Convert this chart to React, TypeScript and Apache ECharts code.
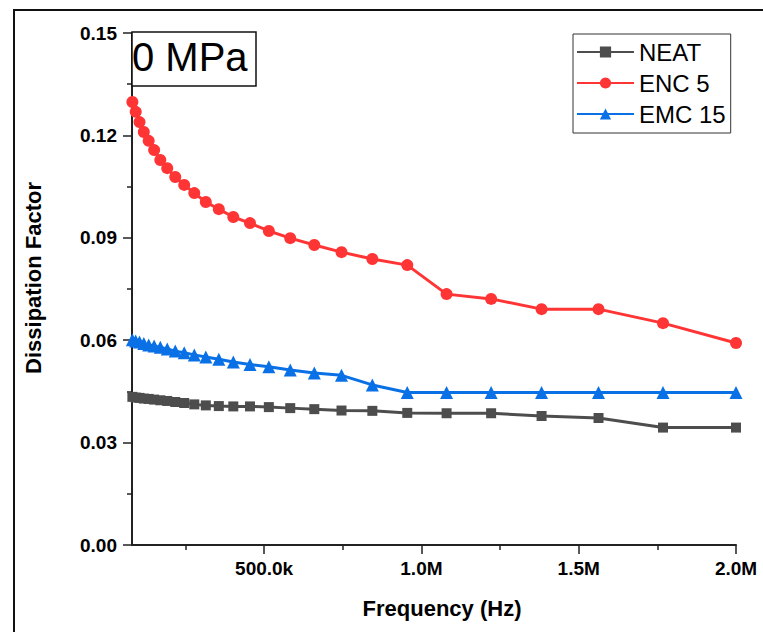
import React, { useEffect, useRef } from "react";
import * as echarts from "echarts";

// Frequency sweep points (Hz), log-spaced
const freqHz = [
  81200, 91800, 103900, 117500, 133000, 150400, 170000, 192000, 217500, 246000,
  278000, 314600, 356000, 402000, 455000, 515000, 583000, 659500, 746000, 844000,
  955000, 1080000, 1221600, 1382000, 1563000, 1768000, 2000000,
];

// Dissipation factor per sample
const neat = [
  0.0434, 0.0432, 0.0431, 0.0429, 0.0428, 0.0426, 0.0424, 0.0422, 0.0419, 0.0416,
  0.0412, 0.0409, 0.0407, 0.0406, 0.0406, 0.0404, 0.0401, 0.0398, 0.0394, 0.0393,
  0.0387, 0.0386, 0.0386, 0.0378, 0.0372, 0.0344, 0.0344,
];
const enc5 = [
  0.1298, 0.1269, 0.1239, 0.121, 0.1184, 0.1157, 0.1128, 0.1104, 0.1078, 0.1055,
  0.1031, 0.1005, 0.0984, 0.0961, 0.0943, 0.092, 0.0899, 0.0879, 0.0858, 0.0838,
  0.082, 0.0735, 0.0721, 0.0691, 0.0691, 0.065, 0.0592,
];
const emc15 = [
  0.0601, 0.0598, 0.0595, 0.059, 0.0586, 0.0583, 0.0579, 0.0574, 0.0568, 0.0563,
  0.0557, 0.0551, 0.0544, 0.0536, 0.0529, 0.0522, 0.0513, 0.0504, 0.0497, 0.0469,
  0.0447, 0.0447, 0.0447, 0.0447, 0.0447, 0.0447, 0.0447,
];

const seriesNames = ["NEAT", "ENC 5", "EMC 15"];
const majorTicksX = [500000, 1000000, 1500000, 2000000];
const minorTicksX = [250000, 750000, 1250000, 1750000];

const FONT = "'Liberation Sans', Arial, Helvetica, sans-serif";

const fmtFreq = (v: number) =>
  v >= 1e6 ? (v / 1e6).toFixed(1) + "M" : (v / 1e3).toFixed(1) + "k";

const pairs = (ys: number[]) => freqHz.map((f, i) => [f, ys[i]]);

export default function App() {
  const ref = useRef<HTMLDivElement>(null);

  useEffect(() => {
    if (!ref.current) return;
    const chart = echarts.init(ref.current, undefined, { renderer: "svg" });

    const axisColor = "#222";
    const baseX = {
      type: "value" as const,
      min: 80000,
      max: 2000000,
      splitLine: { show: false },
    };

    chart.setOption({
      animation: false,
      backgroundColor: "#ffffff",
      grid: { left: 132, top: 33, width: 604, height: 512, containLabel: false },
      legend: {
        orient: "vertical",
        left: 573,
        top: 34,
        padding: [6, 5, 7, 3],
        itemWidth: 57,
        itemHeight: 14,
        itemGap: 7,
        borderColor: "#333",
        borderWidth: 1,
        data: seriesNames,
        textStyle: { fontFamily: FONT, fontSize: 24, color: "#000" },
      },
      xAxis: [
        {
          ...baseX,
          position: "bottom",
          axisLine: { show: true, lineStyle: { color: axisColor, width: 2 } },
          axisTick: {
            show: true,
            length: 9,
            customValues: majorTicksX,
            lineStyle: { color: axisColor, width: 1.5 },
          },
          axisLabel: {
            customValues: majorTicksX,
            formatter: (v: number) => fmtFreq(v),
            fontFamily: FONT,
            fontWeight: "bold",
            fontSize: 19,
            color: "#000",
            margin: 14,
          },
        },
        {
          ...baseX,
          position: "bottom",
          axisLine: { show: false },
          axisTick: {
            show: true,
            length: 5,
            customValues: minorTicksX,
            lineStyle: { color: axisColor, width: 1.5 },
          },
          axisLabel: { show: false },
        },
      ],
      yAxis: {
        type: "value",
        min: 0,
        max: 0.15,
        interval: 0.03,
        splitLine: { show: false },
        axisLine: { show: true, lineStyle: { color: axisColor, width: 2 } },
        axisTick: { show: true, length: 9, lineStyle: { color: axisColor, width: 1.5 } },
        minorTick: { show: true, splitNumber: 2, length: 5, lineStyle: { color: axisColor, width: 1.5 } },
        axisLabel: {
          formatter: (v: number) => v.toFixed(2),
          fontFamily: FONT,
          fontWeight: "bold",
          fontSize: 19,
          color: "#000",
          margin: 15,
        },
      },
      graphic: [
        {
          type: "rect",
          z: 0,
          shape: { x: 14, y: 10, width: 800, height: 700 },
          style: { fill: "none", stroke: "#111", lineWidth: 2 },
        },
        {
          type: "rect",
          z: 10,
          shape: { x: 132, y: 32, width: 124, height: 54 },
          style: { fill: "#fff", stroke: "#111", lineWidth: 1.5 },
        },
        {
          type: "text",
          z: 11,
          x: 132,
          y: 57,
          style: {
            text: "0 MPa",
            fontFamily: FONT,
            fontSize: 40,
            fill: "#000",
            align: "left",
            verticalAlign: "middle",
          },
        },
        {
          type: "text",
          x: 442,
          y: 608,
          style: {
            text: "Frequency (Hz)",
            fontFamily: FONT,
            fontWeight: "bold",
            fontSize: 22,
            fill: "#000",
            align: "center",
            verticalAlign: "middle",
          },
        },
        {
          type: "text",
          x: 33,
          y: 278,
          rotation: Math.PI / 2,
          style: {
            text: "Dissipation Factor",
            fontFamily: FONT,
            fontWeight: "bold",
            fontSize: 22,
            fill: "#000",
            align: "center",
            verticalAlign: "middle",
          },
        },
      ],
      series: [
        {
          name: "NEAT",
          type: "line",
          data: pairs(neat),
          symbol: "rect",
          symbolSize: 10,
          color: "#4d4d4d",
          lineStyle: { width: 3, color: "#4d4d4d" },
          itemStyle: { color: "#4d4d4d" },
        },
        {
          name: "ENC 5",
          type: "line",
          data: pairs(enc5),
          symbol: "circle",
          symbolSize: 12,
          color: "#ff3535",
          lineStyle: { width: 3, color: "#ff3535" },
          itemStyle: { color: "#ff3535" },
        },
        {
          name: "EMC 15",
          type: "line",
          data: pairs(emc15),
          symbol: "triangle",
          symbolSize: 13,
          color: "#0a70e6",
          lineStyle: { width: 3, color: "#0a70e6" },
          itemStyle: { color: "#0a70e6" },
        },
      ],
    });

    return () => chart.dispose();
  }, []);

  return (
    <div
      ref={ref}
      style={{ position: "fixed", left: 0, top: 0, width: 763, height: 632, background: "#fff" }}
    />
  );
}
